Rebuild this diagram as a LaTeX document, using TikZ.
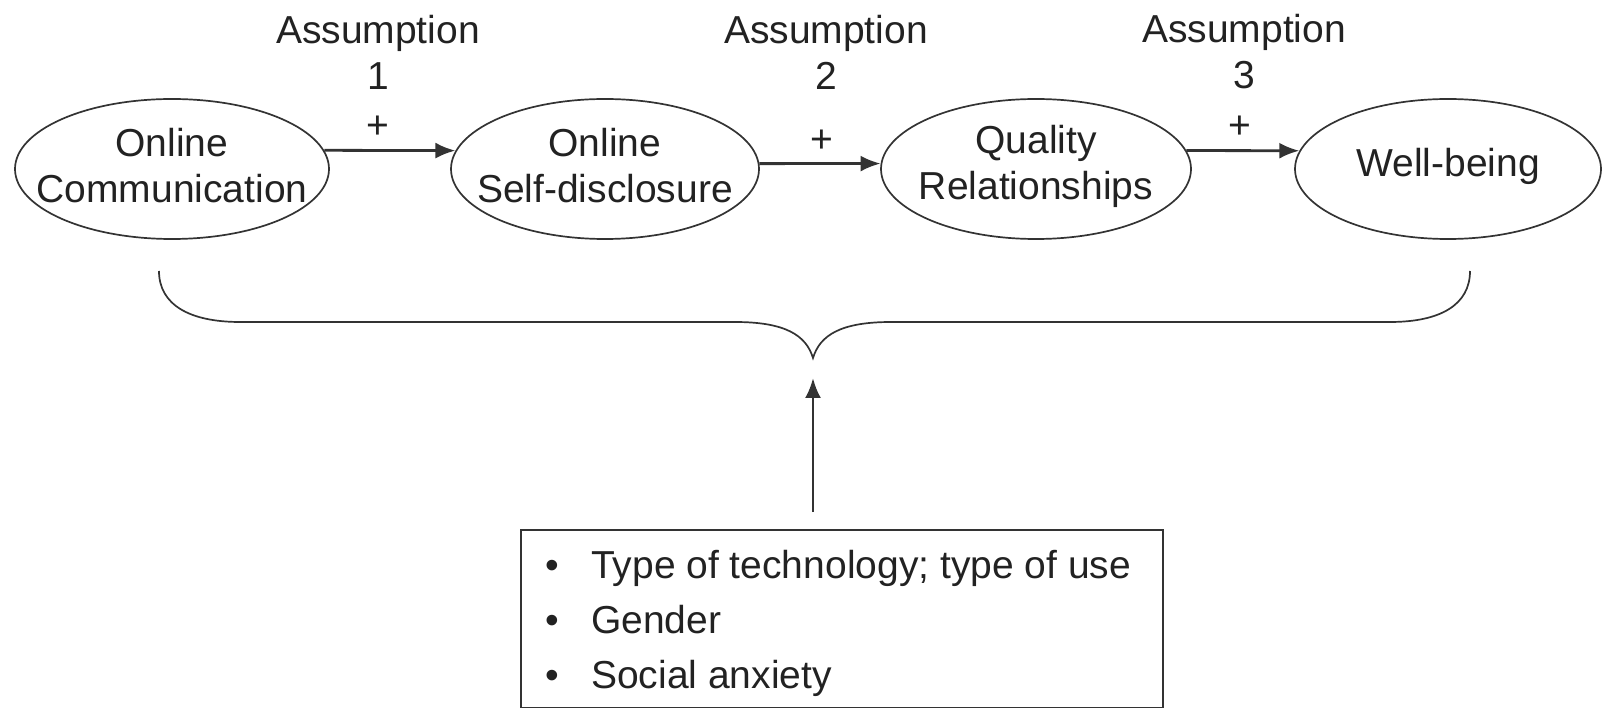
\documentclass[tikz,border=0pt]{standalone}
\usepackage{fontspec}
\setmainfont{Liberation Sans}
\usetikzlibrary{shapes.geometric,arrows.meta}
\definecolor{linec}{HTML}{333333}
\definecolor{textc}{HTML}{222222}
\begin{document}
\begin{tikzpicture}[x=1pt,y=-1pt,
  ell/.style={draw=linec, line width=1.7pt, ellipse, minimum width=#1, minimum height=140pt, inner sep=0pt},
  txt/.style={font=\fontsize{39}{46}\selectfont, align=center, text=textc, inner sep=0pt},
  btxt/.style={font=\fontsize{39}{46}\selectfont, text=textc, inner sep=0pt, anchor=base west},
  conn/.style={draw=linec, line width=2.8pt, -{Latex[length=20pt,width=16pt]}},
  brace/.style={draw=linec, line width=1.7pt}
]
\useasboundingbox (0,0) rectangle (1604,708);
% ellipses
\node[ell=314] (e1) at (172,169) {};
\node[ell=308] (e2) at (605,169) {};
\node[ell=310] (e3) at (1036,169) {};
\node[ell=306] (e4) at (1448,169) {};
\node[txt] (t1) at ([yshift=3pt]e1.center) {Online\\Communication};
\node[txt] (t2) at ([yshift=3pt]e2.center) {Online\\Self-disclosure};
\node[txt] (t3) at ([yshift=3pt]e3.center) {Quality\\Relationships};
\node[txt] (t4) at ([yshift=3pt]e4.center) {Well-being};
% connectors
\draw[conn] (e1.7) -- (e2.173);
\draw[conn] (e2.2) -- (e3.178);
\draw[conn] (e3.7) -- (e4.173);
% labels
\node[txt] (a1) at (378,52) {Assumption\\1};
\node[txt] (a2) at (826,52) {Assumption\\2};
\node[txt] (a3) at (1244,52) {Assumption\\3};
\node[txt] (p1) at (378,127) {+};
\node[txt] (p2) at (822,141) {+};
\node[txt] (p3) at (1240,127) {+};
% brace
\coordinate (bl) at (159,271);
\coordinate (bp) at (813,358);
\coordinate (br) at (1470,271);
\draw[brace] (bl) .. controls (159,305) and (190,322) .. (240,322) -- (735,322)
  .. controls (785,322) and (806,335) .. (bp)
  .. controls (820,335) and (841,322) .. (891,322) -- (1390,322)
  .. controls (1440,322) and (1470,305) .. (br);
% box
\node[draw=linec, line width=1.7pt, minimum width=642pt, minimum height=178pt, anchor=north west, inner sep=0pt] (box) at (520,529) {};
\node[btxt] (b1) at (545,578) {•};
\node[btxt] (b2) at (545,633) {•};
\node[btxt] (b3) at (545,688) {•};
\node[btxt] (l1) at (591,578) {Type of technology; type of use};
\node[btxt] (l2) at (591,633) {Gender};
\node[btxt] (l3) at (591,688) {Social anxiety};
% vertical arrow
\draw[conn, shorten <=17pt, shorten >=20pt] (bp |- box.north) -- (bp);
\end{tikzpicture}
\end{document}
